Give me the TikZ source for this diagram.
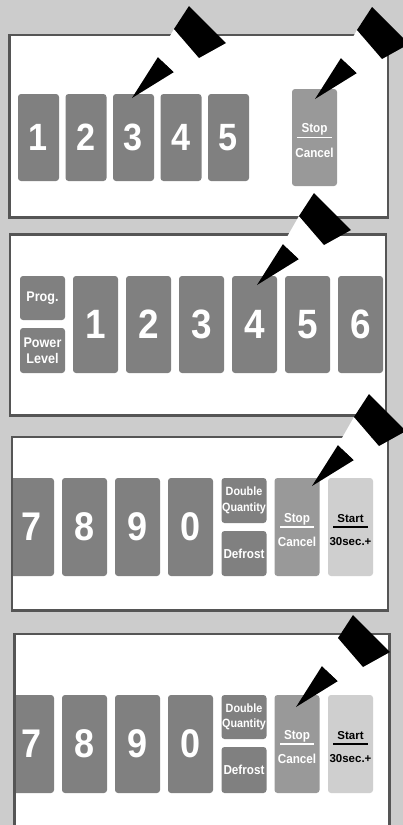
\documentclass[tikz,border=0pt]{standalone}
\usepackage{fontspec}
\setmainfont{Liberation Sans}
\newfontfamily\keyfont[FakeStretch=0.9]{Liberation Sans}
\definecolor{bggray}{HTML}{CCCCCC}
\definecolor{keygray}{HTML}{808080}
\definecolor{stopgray}{HTML}{999999}
\definecolor{startgray}{HTML}{CFCFCF}
\definecolor{framegray}{HTML}{555555}
\tikzset{
  panelframe/.style={draw=framegray, line width=2.4pt},
  keybox/.style={fill=keygray, rounded corners=3pt, inner sep=0pt, text=white,
    minimum width=45pt, minimum height=98pt, font=\keyfont\fontsize{40}{40}\selectfont\bfseries},
  keynarrow/.style={keybox, minimum width=41pt, minimum height=87pt,
    font=\keyfont\fontsize{38}{38}\selectfont\bfseries},
  smallkey/.style={keybox, minimum height=45pt, align=center,
    font=\keyfont\fontsize{12}{15.5}\selectfont\bfseries},
  keylbl/.style={anchor=base, inner sep=0pt, text=white,
    font=\keyfont\fontsize{13}{13}\selectfont\bfseries},
  penmark/.pic={
    \fill[black] (0,0) -- (26,-41) -- (42,-26) -- cycle;
    \fill[white] (26,-41) -- (42,-69) -- (67,-40) -- (42,-26) -- cycle;
    \fill[black] (42,-69) -- (57,-92) -- (94,-55) -- (67,-40) -- cycle;
  }
}
\begin{document}
\begin{tikzpicture}[x=1pt, y=-1pt]
\useasboundingbox (0,0) rectangle (403,825);
\clip (0,0) rectangle (403,825);
\fill[bggray] (0,0) rectangle (403,825);
\fill[white] (9.5,35) rectangle (388,217.5);
\fill[white] (10,234.5) rectangle (386,415.5);
\fill[white] (12,437) rectangle (388,610.5);
\fill[white] (14.5,634) rectangle (389.5,840);
% first panel
\node[keynarrow] (p1k1) at (38.5,137.5) {1};
\node[keynarrow] (p1k2) at (86,137.5) {2};
\node[keynarrow] (p1k3) at (133.5,137.5) {3};
\node[keynarrow] (p1k4) at (181,137.5) {4};
\node[keynarrow] (p1k5) at (228.5,137.5) {5};
\node[keybox, fill=stopgray, minimum height=97pt] (p1stop) at (314.5,137.5) {};
\draw[white, line width=1.2pt] ([xshift=-17.5pt]p1stop.center) -- ([xshift=17.5pt]p1stop.center);
\node[keylbl] (p1stopT) at ([yshift=5pt]p1stop.center) {Stop};
\node[keylbl] (p1stopB) at ([yshift=-20pt]p1stop.center) {Cancel};
% second panel
\node[smallkey, minimum height=44pt, font=\keyfont\fontsize{14}{16}\selectfont\bfseries] (p2prog) at (42.5,298) {Prog.};
\node[smallkey, font=\keyfont\fontsize{14}{16}\selectfont\bfseries] (p2power) at (42.5,350.5) {Power\\Level};
\node[keybox, minimum height=97pt, font=\keyfont\fontsize{41}{41}\selectfont\bfseries] (p2k1) at (95.5,324.5) {1};
\node[keybox, minimum height=97pt, font=\keyfont\fontsize{41}{41}\selectfont\bfseries] (p2k2) at (148.5,324.5) {2};
\node[keybox, minimum height=97pt, font=\keyfont\fontsize{41}{41}\selectfont\bfseries] (p2k3) at (201.5,324.5) {3};
\node[keybox, minimum height=97pt, font=\keyfont\fontsize{41}{41}\selectfont\bfseries] (p2k4) at (254.5,324.5) {4};
\node[keybox, minimum height=97pt, font=\keyfont\fontsize{41}{41}\selectfont\bfseries] (p2k5) at (307.5,324.5) {5};
\node[keybox, minimum height=97pt, font=\keyfont\fontsize{41}{41}\selectfont\bfseries] (p2k6) at (360.5,324.5) {6};
% third panel
\begin{scope}
\clip (12,437) rectangle (388,610.5);
\node[keybox] (p3k7) at (31.5,527) {7};
\end{scope}
\node[keybox] (p3k8) at (84.5,527) {8};
\node[keybox] (p3k9) at (137.5,527) {9};
\node[keybox] (p3k0) at (190.5,527) {0};
\node[smallkey] (p3dq) at (244,500.5) {Double\\Quantity};
\node[smallkey, font=\keyfont\fontsize{13}{13}\selectfont\bfseries] (p3def) at (244,553.5) {Defrost};
\node[keybox, fill=stopgray] (p3stop) at (297,527) {};
\node[keybox, fill=startgray] (p3start) at (350.5,527) {};
\draw[white, line width=1.2pt] ([xshift=-17pt]p3stop.center) -- ([xshift=17pt]p3stop.center);
\node[keylbl] (p3stopT) at ([yshift=5pt]p3stop.center) {Stop};
\node[keylbl] (p3stopB) at ([yshift=-19pt]p3stop.center) {Cancel};
\draw[black, line width=1.2pt] ([xshift=-17.5pt]p3start.center) -- ([xshift=17.5pt]p3start.center);
\node[keylbl, text=black, font=\fontsize{11.5}{11.5}\selectfont\bfseries] (p3startT) at ([yshift=5pt]p3start.center) {Start};
\node[keylbl, text=black, font=\fontsize{11.5}{11.5}\selectfont\bfseries] (p3startB) at ([yshift=-18pt]p3start.center) {30sec.+};
% fourth panel
\begin{scope}
\clip (14.5,634) rectangle (389.5,840);
\node[keybox] (p4k7) at (31.5,744) {7};
\end{scope}
\node[keybox] (p4k8) at (84.5,744) {8};
\node[keybox] (p4k9) at (137.5,744) {9};
\node[keybox] (p4k0) at (190.5,744) {0};
\node[smallkey, minimum height=44pt] (p4dq) at (244,717) {Double\\Quantity};
\node[smallkey, minimum height=46pt, font=\keyfont\fontsize{13}{13}\selectfont\bfseries] (p4def) at (244,770) {Defrost};
\node[keybox, fill=stopgray] (p4stop) at (297,744) {};
\node[keybox, fill=startgray] (p4start) at (350.5,744) {};
\draw[white, line width=1.2pt] ([xshift=-17pt]p4stop.center) -- ([xshift=17pt]p4stop.center);
\node[keylbl] (p4stopT) at ([yshift=5pt]p4stop.center) {Stop};
\node[keylbl] (p4stopB) at ([yshift=-19pt]p4stop.center) {Cancel};
\draw[black, line width=1.2pt] ([xshift=-17.5pt]p4start.center) -- ([xshift=17.5pt]p4start.center);
\node[keylbl, text=black, font=\fontsize{11.5}{11.5}\selectfont\bfseries] (p4startT) at ([yshift=5pt]p4start.center) {Start};
\node[keylbl, text=black, font=\fontsize{11.5}{11.5}\selectfont\bfseries] (p4startB) at ([yshift=-18pt]p4start.center) {30sec.+};
% frames
\draw[panelframe] (9.5,35) rectangle (388,217.5);
\draw[panelframe] (10,234.5) rectangle (386,415.5);
\draw[panelframe] (12,437) rectangle (388,610.5);
\draw[panelframe] (14.5,634) rectangle (389.5,840);
% pointers
\pic at (132,98) {penmark};
\pic at (315,99) {penmark};
\pic at (257,285) {penmark};
\pic at (312,486) {penmark};
\pic at (296,707) {penmark};
\end{tikzpicture}
\end{document}
